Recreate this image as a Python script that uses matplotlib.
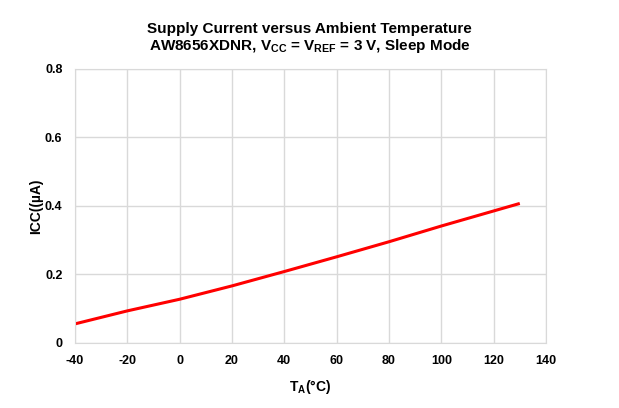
import matplotlib
matplotlib.use("Agg")
import matplotlib.pyplot as plt

temps = [-40, -20, 0, 20, 40, 60, 80, 100, 120, 130]
icc = [0.055, 0.093, 0.127, 0.166, 0.208, 0.251, 0.295, 0.341, 0.385, 0.407]
xticks = [-40, -20, 0, 20, 40, 60, 80, 100, 120, 140]
yticks = [0, 0.2, 0.4, 0.6, 0.8]
ytick_labels = ["0", "0.2", "0.4", "0.6", "0.8"]

plt.rcParams['font.family'] = ['Liberation Sans', 'DejaVu Sans']

fig = plt.figure(figsize=(6.19, 4.08), dpi=100)
ax = fig.add_axes([0.121, 0.160, 0.761, 0.671])
ax.plot(temps, icc, color='#ff0000', lw=2.2, solid_capstyle='butt', solid_joinstyle='round')
ax.set_xlim(-40, 140)
ax.set_ylim(0, 0.8)
ax.set_xticks(xticks)
ax.set_xticklabels([str(t) for t in xticks])
ax.set_yticks(yticks)
ax.set_yticklabels(ytick_labels)
ax.grid(True, color='#d9d9d9', lw=1)
ax.set_axisbelow(True)
for s in ax.spines.values():
    s.set_color('#d9d9d9')
ax.tick_params(length=0, labelsize=9, pad=9)
for lab in ax.get_xticklabels() + ax.get_yticklabels():
    lab.set_fontweight('bold')
ax.set_xlabel(r'T$_\mathregular{A}$(°C)', fontsize=10, fontweight='bold', labelpad=8)
ax.set_ylabel('ICC((µA)', fontsize=10, fontweight='bold', labelpad=1)
fig.text(0.5, 0.928, 'Supply Current versus Ambient Temperature', ha='center', va='center',
         fontsize=11, fontweight='bold')
fig.text(0.5, 0.888, r'AW8656XDNR, V$_\mathregular{CC}$ = V$_\mathregular{REF}$ = 3 V, Sleep Mode',
         ha='center', va='center', fontsize=11, fontweight='bold')
fig.savefig('out.png', dpi=100)
